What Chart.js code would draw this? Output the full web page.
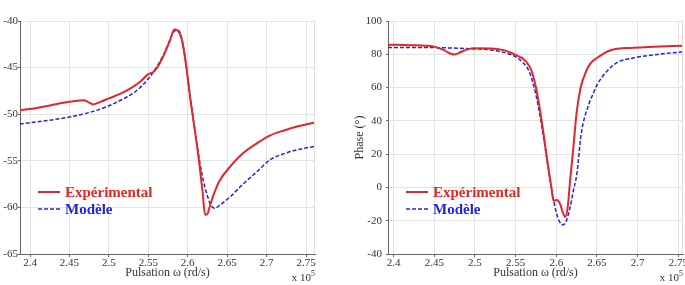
<!DOCTYPE html>
<html>
<head>
<meta charset="utf-8">
<script src="https://cdn.jsdelivr.net/npm/chart.js@4"></script>
<style>
  html, body { margin: 0; padding: 0; background: #fff; overflow: hidden; }
  #wrap { position: relative; width: 685px; height: 285px; }
  .panel { position: absolute; top: 0; height: 285px; }
</style>
</head>
<body>
<div id="wrap">
  <div class="panel" style="left:0;width:340px"><canvas id="magChart"></canvas></div>
  <div class="panel" style="left:340px;width:360px"><canvas id="phaseChart"></canvas></div>
</div>
<script>
// Pulsation (x 10^5 rd/s) and gain
const magExpW = [2.387, 2.40, 2.42, 2.44, 2.455, 2.468, 2.474, 2.48, 2.49, 2.50, 2.515, 2.53, 2.54, 2.55, 2.556, 2.562, 2.57, 2.577, 2.583, 2.588, 2.593, 2.598, 2.603, 2.609, 2.615, 2.619, 2.622, 2.625, 2.628, 2.633, 2.64, 2.654, 2.67, 2.69, 2.704, 2.72, 2.74, 2.761];
const magExp = [-49.55, -49.45, -49.15, -48.8, -48.6, -48.5, -48.7, -48.95, -48.65, -48.3, -47.8, -47.1, -46.5, -45.7, -45.5, -44.9, -43.6, -42.2, -40.9, -41.1, -42.2, -44.8, -48.2, -51.7, -55.5, -58.5, -60.8, -60.7, -59.9, -58.6, -57.2, -55.6, -54.2, -53.0, -52.3, -51.8, -51.3, -50.9];
const magModW = [2.387, 2.42, 2.45, 2.48, 2.50, 2.515, 2.53, 2.54, 2.55, 2.56, 2.57, 2.578, 2.583, 2.587, 2.591, 2.596, 2.603, 2.609, 2.616, 2.62, 2.624, 2.629, 2.634, 2.64, 2.654, 2.67, 2.69, 2.704, 2.72, 2.74, 2.761];
const magMod = [-51.05, -50.7, -50.3, -49.7, -49.1, -48.5, -47.8, -47.1, -46.2, -45.0, -43.5, -41.9, -41.1, -40.97, -41.4, -43.5, -48.0, -51.7, -55.5, -57.2, -58.5, -59.7, -60.1, -59.8, -58.85, -57.5, -56.0, -54.9, -54.3, -53.8, -53.45];

// Phase (deg), right panel
const phaseExpW = [2.393, 2.42, 2.45, 2.462, 2.468, 2.475, 2.482, 2.49, 2.50, 2.52, 2.535, 2.545, 2.555, 2.56, 2.566, 2.57, 2.575, 2.58, 2.585, 2.59, 2.594, 2.5966, 2.6007, 2.6048, 2.608, 2.611, 2.614, 2.617, 2.621, 2.625, 2.63, 2.636, 2.642, 2.65, 2.666, 2.695, 2.72, 2.756];
const phaseExp = [85.8, 85.5, 84.6, 82.5, 80.8, 79.9, 81.2, 82.8, 83.6, 83.5, 82.5, 80.8, 78.5, 77, 73.5, 69.5, 60, 46.4, 30, 12.5, 0, -8, -7.6, -10, -15, -17.8, -12, 4, 24, 45, 60, 69, 74.5, 77.8, 82.3, 83.9, 84.5, 85.1];
const phaseModW = [2.393, 2.45, 2.50, 2.52, 2.54, 2.55, 2.558, 2.566, 2.57, 2.575, 2.58, 2.585, 2.59, 2.595, 2.60, 2.604, 2.608, 2.612, 2.617, 2.621, 2.6253, 2.6306, 2.64, 2.646, 2.65, 2.658, 2.674, 2.695, 2.724, 2.756];
const phaseMod = [84.1, 84.0, 83.2, 82.6, 80.5, 78.5, 75.5, 70.4, 65, 55.5, 43, 28, 12, -3, -15, -20.5, -22.5, -20.5, -12, -2, 8.1, 32, 50, 57, 61.5, 67.4, 74.8, 77.8, 79.9, 81.5];

const legendLabels = ["Expérimental", "Modèle"];
const xTitle = "Pulsation \u03c9 (rd/s)";

const RED = "#e3262a";
const BLUE = "#2424d6";
const SERIF = "'Liberation Serif', 'DejaVu Serif', serif";

function toPoints(xs, ys) {
  return xs.map((x, i) => ({ x: x, y: ys[i] }));
}

// legend drawn inside the plot, lower left, text in the line colour
const innerLegend = {
  id: "innerLegend",
  afterDatasetsDraw(chart) {
    const { ctx, chartArea } = chart;
    ctx.save();
    chart.data.datasets.forEach((ds, i) => {
      const y = chartArea.top + 171 + i * 17;
      ctx.strokeStyle = ds.borderColor;
      ctx.lineWidth = ds.borderWidth;
      ctx.setLineDash(ds.borderDash || []);
      ctx.beginPath();
      ctx.moveTo(chartArea.left + 18, y);
      ctx.lineTo(chartArea.left + 40, y);
      ctx.stroke();
      ctx.setLineDash([]);
      ctx.fillStyle = ds.borderColor;
      ctx.font = "bold 15px " + SERIF;
      ctx.textBaseline = "middle";
      ctx.textAlign = "left";
      ctx.fillText(ds.label, chartArea.left + 45, y + 1);
    });
    ctx.restore();
  }
};

// "x 10^5" under the right end of the x axis, plus the light box edge
const axisExtras = {
  id: "axisExtras",
  afterDraw(chart) {
    const { ctx, chartArea } = chart;
    ctx.save();
    ctx.strokeStyle = "#dcdcdc";
    ctx.lineWidth = 1;
    ctx.beginPath();
    ctx.moveTo(chartArea.right - 0.5, chartArea.top);
    ctx.lineTo(chartArea.right - 0.5, chartArea.bottom);
    ctx.stroke();
    ctx.fillStyle = "#333";
    ctx.textAlign = "right";
    ctx.textBaseline = "alphabetic";
    ctx.font = "8px " + SERIF;
    const w5 = ctx.measureText("5").width;
    ctx.fillText("5", chartArea.right, 276);
    ctx.font = "11px " + SERIF;
    ctx.fillText("x 10", chartArea.right - w5, 281);
    ctx.restore();
  }
};

function makeChart(id, opts) {
  return new Chart(document.getElementById(id), {
    type: "line",
    data: {
      datasets: [
        {
          label: legendLabels[0],
          data: toPoints(opts.expW, opts.exp),
          borderColor: RED,
          borderWidth: 2,
          cubicInterpolationMode: "monotone"
        },
        {
          label: legendLabels[1],
          data: toPoints(opts.modW, opts.mod),
          borderColor: BLUE,
          borderWidth: 1.5,
          borderDash: [4, 2],
          cubicInterpolationMode: "monotone"
        }
      ]
    },
    options: {
      responsive: true,
      maintainAspectRatio: false,
      animation: false,
      events: [],
      layout: { padding: { top: 21, right: opts.padRight, left: 0, bottom: 0 } },
      elements: { point: { radius: 0 } },
      plugins: { legend: { display: false }, tooltip: { enabled: false } },
      scales: {
        x: {
          type: "linear",
          min: opts.xMin,
          max: opts.xMax,
          afterFit: (scale) => { scale.height = 31; },
          border: { display: true, color: "#666" },
          grid: { color: "#e4e4e4", tickColor: "#666", tickLength: 3 },
          ticks: {
            stepSize: 0.05,
            includeBounds: false,
            padding: 0,
            color: "#333",
            font: { family: SERIF, size: 11 },
            maxRotation: 0,
            autoSkip: false,
            callback: (v) => String(+v.toFixed(2))
          },
          title: {
            display: true,
            text: xTitle,
            color: "#333",
            font: { family: SERIF, size: 12 },
            padding: { top: 0, bottom: 5 }
          }
        },
        y: {
          min: opts.yMin,
          max: opts.yMax,
          afterFit: (scale) => { scale.width = opts.yWidth; },
          border: { display: true, color: "#666" },
          grid: { color: "#e4e4e4", tickColor: "#666", tickLength: 2 },
          ticks: {
            stepSize: opts.yStep,
            padding: opts.yPad,
            color: "#333",
            font: { family: SERIF, size: 11 }
          },
          title: {
            display: !!opts.yTitle,
            text: opts.yTitle || "",
            color: "#333",
            font: { family: SERIF, size: 12 },
            padding: { top: 13, bottom: 0 }
          }
        }
      }
    },
    plugins: [innerLegend, axisExtras]
  });
}

makeChart("magChart", {
  expW: magExpW, exp: magExp, modW: magModW, mod: magMod,
  xMin: 2.3873, xMax: 2.7614, yMin: -65, yMax: -40, yStep: 5,
  yWidth: 20, yPad: 0, padRight: 25
});

makeChart("phaseChart", {
  expW: phaseExpW, exp: phaseExp, modW: phaseModW, mod: phaseMod,
  xMin: 2.3931, xMax: 2.7558, yMin: -40, yMax: 100, yStep: 20,
  yWidth: 48, yPad: 4, padRight: 17, yTitle: "Phase (\u00b0)"
});
</script>
</body>
</html>
